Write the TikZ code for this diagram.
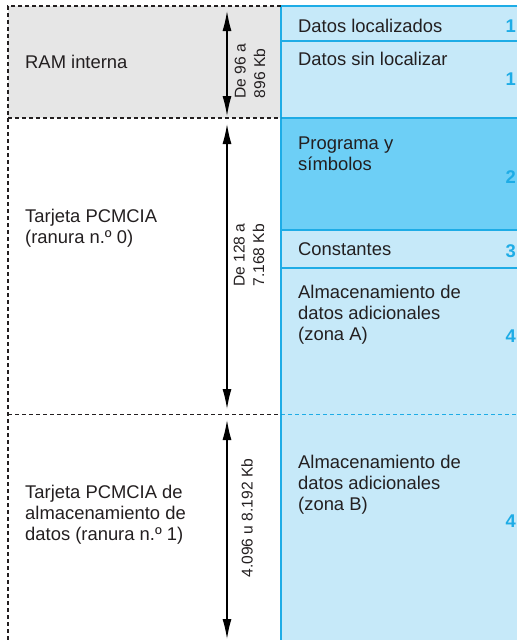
\documentclass[tikz,border=0pt]{standalone}
\usepackage{fontspec}
\setmainfont{Liberation Sans}
\usetikzlibrary{arrows.meta}
\definecolor{lightblue}{HTML}{C6E9F9}
\definecolor{darkblue}{HTML}{6DCFF6}
\definecolor{edgeblue}{HTML}{1EACE6}
\definecolor{ramgray}{HTML}{E6E6E6}
\definecolor{txt}{HTML}{231F20}
\tikzset{
  lbl/.style={anchor=base west, inner sep=0pt, text=txt, font=\fontsize{18.4}{21}\selectfont, align=left},
  num/.style={anchor=base east, inner sep=0pt, text=edgeblue, font=\fontsize{18.4}{21}\selectfont\bfseries},
  dimlbl/.style={inner sep=0pt, text=txt, font=\fontsize{15.6}{19.5}\selectfont, align=left, rotate=90},
  dim/.style={line width=1.3pt, {Latex[length=20pt,width=9pt]}-{Latex[length=20pt,width=9pt]}},
  bdash/.style={line width=1.1pt, dash pattern=on 4pt off 3pt, txt},
  bluedash/.style={line width=1.1pt, dash pattern=on 4pt off 3pt, edgeblue},
  blueline/.style={line width=1.4pt, edgeblue}
}
\begin{document}
\begin{tikzpicture}[x=1pt,y=-1pt]
\useasboundingbox (0,0) rectangle (517,640);
% fills
\fill[ramgray] (8,6) rectangle (281,118);
\fill[lightblue] (281,6) rectangle (517,640);
\fill[darkblue] (281,118) rectangle (517,230);
% blue column lines
\draw[blueline] (517,6) -- (281,6) -- (281,640);
\draw[blueline] (281,41) -- (517,41);
\draw[blueline] (281,118) -- (517,118);
\draw[blueline] (281,230) -- (517,230);
\draw[blueline] (281,268) -- (517,268);
\draw[bluedash] (281,414.5) -- (517,414.5);
% dashed frame
\draw[bdash] (281,6) -- (8,6) -- (8,640);
\draw[bdash] (8,118) -- (281,118);
\draw[bdash] (8,414.5) -- (281,414.5);
% dimension arrows
\coordinate (a1t) at (227,11);
\coordinate (a1b) at (227,116);
\coordinate (a2t) at (227,124);
\coordinate (a2b) at (227,409);
\coordinate (a3t) at (227,420);
\coordinate (a3b) at (227,639);
\draw[dim] (a1t) -- (a1b);
\draw[dim] (a2t) -- (a2b);
\draw[dim] (a3t) -- (a3b);
\node[dimlbl] (d1) at (250,71) {De 96 a\\896 Kb};
\node[dimlbl] (d2) at (249,255) {De 128 a\\7.168 Kb};
\node[dimlbl] (d3) at (247,518) {4.096 u 8.192 Kb};
% left labels (base = last line)
\node[lbl] (ram) at (25,68) {RAM interna};
\node[lbl] (pc0) at (25,243) {Tarjeta PCMCIA\\(ranura n.º 0)};
\node[lbl] (pc1) at (25,540) {Tarjeta PCMCIA de\\almacenamiento de\\datos (ranura n.º 1)};
% right labels
\node[lbl] (r1) at (298,32) {Datos localizados};
\node[lbl] (r2) at (298,65) {Datos sin localizar};
\node[lbl] (r3) at (298,170) {Programa y\\símbolos};
\node[lbl] (r4) at (298,255) {Constantes};
\node[lbl] (r5) at (298,340) {Almacenamiento de\\datos adicionales\\(zona A)};
\node[lbl] (r6) at (298,510) {Almacenamiento de\\datos adicionales\\(zona B)};
% numbers
\node[num] (n1) at (516,32) {1};
\node[num] (n2) at (516,85) {1};
\node[num] (n3) at (516,183) {2};
\node[num] (n4) at (516,257) {3};
\node[num] (n5) at (516,342) {4};
\node[num] (n6) at (516,527) {4};
\end{tikzpicture}
\end{document}
